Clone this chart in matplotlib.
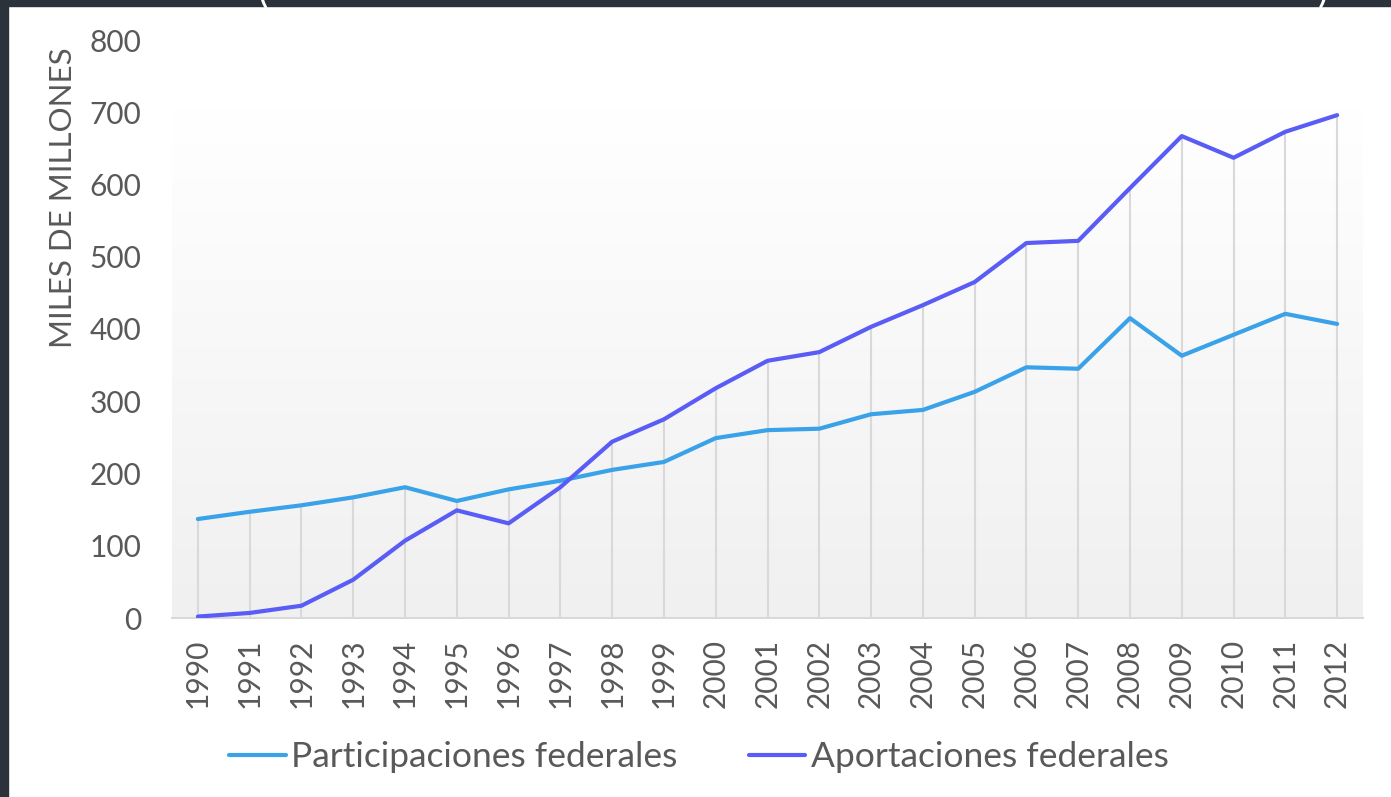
import numpy as np
import matplotlib
matplotlib.use("Agg")
import matplotlib.pyplot as plt
from matplotlib.patches import Rectangle
from matplotlib.colors import LinearSegmentedColormap

years = [str(y) for y in range(1990, 2013)]
participaciones = [137, 147, 156, 167, 181, 162, 178, 190, 205, 216, 249, 260, 262,
                   282, 288, 313, 347, 345, 415, 363, 392, 421, 407]
aportaciones = [2, 7, 17, 53, 107, 149, 131, 181, 244, 275, 318, 356, 368,
                403, 433, 465, 519, 522, 595, 667, 637, 673, 696]
y_label = "MILES DE MILLONES"
series_names = ["Participaciones federales", "Aportaciones federales"]
yticks = [0, 100, 200, 300, 400, 500, 600, 700, 800]

plt.rcParams['font.family'] = ['Lato', 'DejaVu Sans']
W, H = 1391, 797
fig = plt.figure(figsize=(W / 100, H / 100), dpi=100)
fig.patch.set_facecolor('white')

# dark frame bands (top and left)
dark = '#2b323b'
fig.patches.append(Rectangle((0, 1 - 6 / H), 1, 6 / H, transform=fig.transFigure,
                             color=dark, zorder=0))
fig.patches.append(Rectangle((0, 0), 8 / W, 1, transform=fig.transFigure,
                             color=dark, zorder=0))
# cut-off title parentheses at the very top
fig.text(262 / W, 1 + 9 / H, "(", color='white', fontsize=28, ha='center', va='center')
fig.text(1323 / W, 1 + 9 / H, ")", color='white', fontsize=28, ha='center', va='center')

ax = fig.add_axes([172 / W, (H - 618) / H, (1363 - 172) / W, (618 - 40) / H])
ax.set_facecolor('none')

# gradient background
cmap = LinearSegmentedColormap.from_list('g', ['#f0f0f0', '#ffffff'])
grad = np.linspace(0, 1, 256).reshape(-1, 1)
ax.imshow(grad, cmap=cmap, aspect='auto', origin='lower', extent=[0, 1, 0, 0.88],
          transform=ax.transAxes, zorder=0)

x = np.arange(len(years))
tops = np.maximum(participaciones, aportaciones)
ax.vlines(x, 0, tops, colors='#d9d9d9', linewidth=1.5, zorder=1)

c1 = '#3aa2e8'
c2 = '#5a5cf6'
ax.plot(x, participaciones, color=c1, lw=3, solid_capstyle='round',
        solid_joinstyle='round', label=series_names[0], zorder=3)
ax.plot(x, aportaciones, color=c2, lw=3, solid_capstyle='round',
        solid_joinstyle='round', label=series_names[1], zorder=3)

ax.set_xlim(-0.5, len(years) - 0.5)
ax.set_ylim(0, 800)
ax.set_yticks(yticks)
ax.set_yticklabels([str(t) for t in yticks])
ax.set_xticks(x)
ax.set_xticklabels(years, rotation=90)

txtc = '#595959'
ax.tick_params(axis='y', length=0, pad=22, labelsize=21.5, labelcolor=txtc)
ax.tick_params(axis='x', length=0, pad=15, labelsize=21.5, labelcolor=txtc)

for s in ['top', 'right', 'left']:
    ax.spines[s].set_visible(False)
ax.spines['bottom'].set_color('#d9d9d9')
ax.spines['bottom'].set_linewidth(1.5)

ax.set_ylabel(y_label, fontsize=22.5, color=txtc)
ax.yaxis.set_label_coords(-0.0798, 0.728)

leg = fig.legend(loc='center', bbox_to_anchor=(699 / W, (H - 757) / H), ncol=2,
                 frameon=False, fontsize=25.5, handlelength=1.6, handletextpad=0.15,
                 columnspacing=2.0)
for t in leg.get_texts():
    t.set_color(txtc)

fig.savefig('out.png', dpi=100)
